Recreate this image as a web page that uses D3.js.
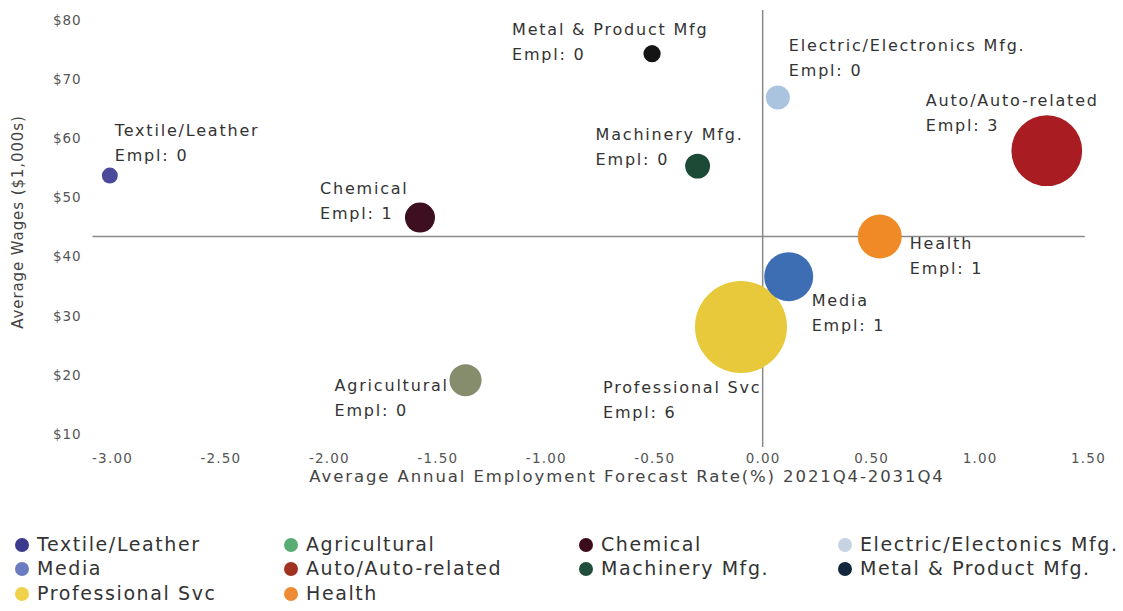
<!DOCTYPE html>
<html>
<head>
<meta charset="utf-8">
<script src="https://cdn.jsdelivr.net/npm/d3@7"></script>
<style>
  html, body { margin: 0; padding: 0; background: #fff; }
  svg { display: block; font-family: "DejaVu Sans", "Open Sans", sans-serif; }
</style>
</head>
<body>
<svg id="chart" width="1123" height="611"></svg>
<script>
// Industry clusters: employment forecast rate vs. average wages
const industries = ["Textile/Leather", "Metal & Product Mfg", "Electric/Electronics Mfg.", "Auto/Auto-related",
  "Machinery Mfg.", "Chemical", "Health", "Media", "Professional Svc", "Agricultural"];
const forecastRate = [-3.01, -0.51, 0.07, 1.31, -0.30, -1.58, 0.54, 0.12, -0.10, -1.37];
const avgWage = [53.7, 74.3, 66.9, 57.9, 55.3, 46.6, 43.4, 36.6, 28.1, 19.1];
const bubbleSize = [0.18, 0.21, 0.41, 3.55, 0.44, 0.64, 1.37, 1.70, 6.0, 0.73];
const emplLabel = [0, 0, 0, 3, 0, 1, 1, 1, 6, 0];

const xTicks = [-3.00, -2.50, -2.00, -1.50, -1.00, -0.50, 0.00, 0.50, 1.00, 1.50];
const yTicks = [10, 20, 30, 40, 50, 60, 70, 80];
const avgWageLine = 43.4;
const zeroRateLine = 0;

const legendItems = ["Textile/Leather", "Agricultural", "Chemical", "Electric/Electonics Mfg.",
  "Media", "Auto/Auto-related", "Machinery Mfg.", "Metal & Product Mfg.",
  "Professional Svc", "Health"];

// Styling
const bubbleColor = {
  "Textile/Leather": "#4b4a9a", "Metal & Product Mfg": "#141414", "Electric/Electronics Mfg.": "#aac4e0",
  "Auto/Auto-related": "#a81c22", "Machinery Mfg.": "#1d4a37", "Chemical": "#3e0f20",
  "Health": "#ef8a26", "Media": "#3d6db3", "Professional Svc": "#e8c93c", "Agricultural": "#858d6c"
};
const legendColor = ["#3b3a8c", "#5aad72", "#3c0b1c", "#c5d3e3", "#6b7cc2", "#a03222",
  "#204d3c", "#12263c", "#efd24a", "#f08b35"];
// label offsets from bubble centre: [dx to text start, dy to first line centre]
const labelOffset = [[5, -45], [-140, -24], [11, -51], [-121, -50], [-102, -31],
  [-100, -29], [30, 8], [23, 24], [-138, 61], [-131, 6]];

const svg = d3.select("#chart");

const x = d3.scaleLinear().domain([-3, 1.5]).range([112, 1088]);
const y = d3.scaleLinear().domain([10, 80]).range([434, 20]);
const r = d3.scaleSqrt().domain([0, d3.max(bubbleSize)]).range([0, 46]);

const plotLeft = x(-3.09), plotRight = x(1.485);
const plotTop = y(81.7), plotBottom = y(7.8);

// Y axis (labels only)
const yAxis = svg.append("g")
  .attr("transform", `translate(${plotLeft},0)`)
  .call(d3.axisLeft(y).tickValues(yTicks).tickSize(0).tickPadding(11).tickFormat(d => "$" + d));
yAxis.select(".domain").remove();
yAxis.selectAll("text").attr("font-size", 13.5).attr("fill", "#555")
  .attr("letter-spacing", 0.9)
  .attr("font-family", "'DejaVu Sans', sans-serif");

// X axis (labels only)
const xAxis = svg.append("g")
  .attr("transform", `translate(0,${plotBottom})`)
  .call(d3.axisBottom(x).tickValues(xTicks).tickSize(0).tickPadding(6).tickFormat(d3.format(".2f")));
xAxis.select(".domain").remove();
xAxis.selectAll("text").attr("font-size", 13.5).attr("fill", "#555")
  .attr("letter-spacing", 1.2)
  .attr("font-family", "'DejaVu Sans', sans-serif")
  .text(d => d3.format(".2f")(d).replace("−", "-"));

// Reference lines
svg.append("line")
  .attr("x1", plotLeft).attr("x2", plotRight)
  .attr("y1", y(avgWageLine)).attr("y2", y(avgWageLine))
  .attr("stroke", "#8a8a8a").attr("stroke-width", 1.5);
svg.append("line")
  .attr("x1", x(zeroRateLine)).attr("x2", x(zeroRateLine))
  .attr("y1", plotTop).attr("y2", plotBottom)
  .attr("stroke", "#8a8a8a").attr("stroke-width", 1.5);

// Axis titles
svg.append("text")
  .attr("transform", `translate(18,222) rotate(-90)`)
  .attr("text-anchor", "middle").attr("dominant-baseline", "middle")
  .attr("font-size", 15).attr("fill", "#444").attr("letter-spacing", 0.9)
  .text("Average Wages ($1,000s)");
svg.append("text")
  .attr("x", 627).attr("y", 477)
  .attr("text-anchor", "middle").attr("dominant-baseline", "middle")
  .attr("font-size", 16.5).attr("fill", "#444").attr("letter-spacing", 1.9)
  .text("Average Annual Employment Forecast Rate(%) 2021Q4-2031Q4");

// Bubbles
const nodes = industries.map((name, i) => ({
  name, rate: forecastRate[i], wage: avgWage[i], size: bubbleSize[i], empl: emplLabel[i], off: labelOffset[i]
}));
const drawOrder = nodes.slice().sort((a, b) => b.size - a.size);

svg.append("g").selectAll("circle")
  .data(drawOrder)
  .join("circle")
  .attr("cx", d => x(d.rate))
  .attr("cy", d => y(d.wage))
  .attr("r", d => r(d.size))
  .attr("fill", d => bubbleColor[d.name]);

// Bubble labels
const lbl = svg.append("g").selectAll("text")
  .data(nodes)
  .join("text")
  .attr("x", d => x(d.rate) + d.off[0])
  .attr("y", d => y(d.wage) + d.off[1])
  .attr("font-size", 16).attr("fill", "#333").attr("letter-spacing", 1.8)
  .attr("dominant-baseline", "middle");
lbl.append("tspan").text(d => d.name);
lbl.append("tspan")
  .attr("x", d => x(d.rate) + d.off[0]).attr("dy", 25)
  .text(d => "Empl: " + d.empl);

// Legend (4 columns, row-major)
const legendColX = [22, 291, 586, 845];
const legendRowY = [545, 569, 594];
const leg = svg.append("g").selectAll("g")
  .data(legendItems)
  .join("g")
  .attr("transform", (d, i) => `translate(${legendColX[i % 4]},${legendRowY[Math.floor(i / 4)]})`);
leg.append("circle").attr("r", 7).attr("fill", (d, i) => legendColor[i]);
leg.append("text")
  .attr("x", 15).attr("dominant-baseline", "middle")
  .attr("font-size", 19).attr("fill", "#333").attr("letter-spacing", 1.6)
  .text(d => d);
</script>
</body>
</html>
